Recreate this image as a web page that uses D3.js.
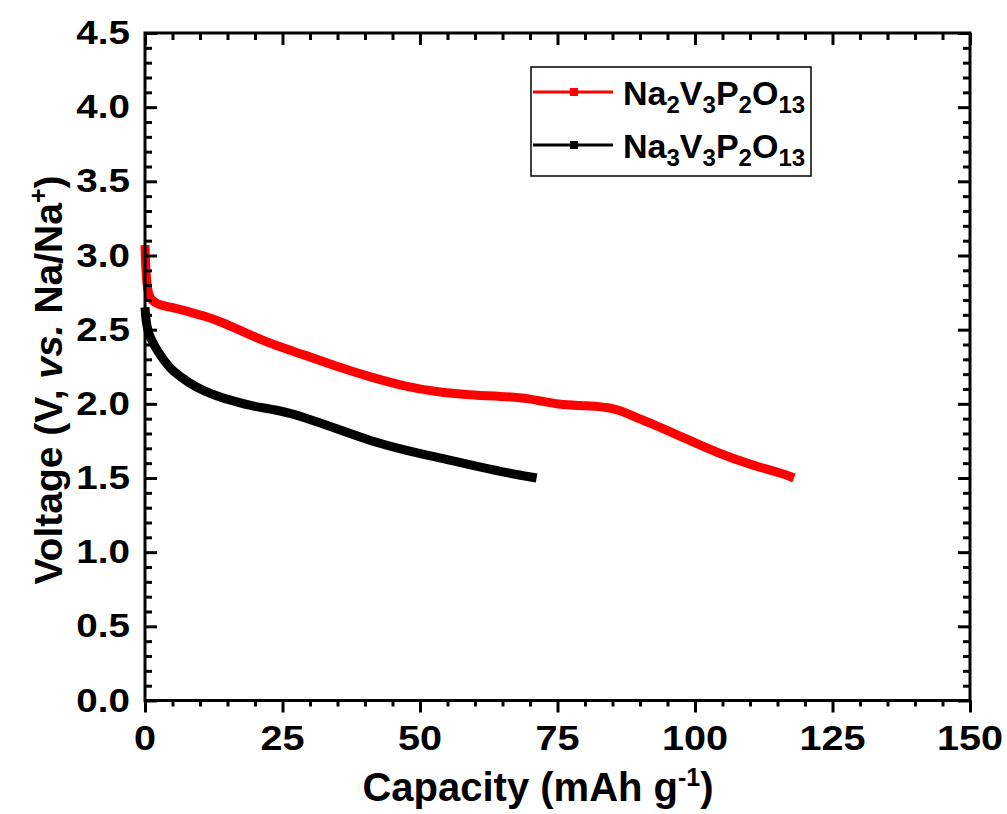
<!DOCTYPE html>
<html>
<head>
<meta charset="utf-8">
<script src="https://cdn.jsdelivr.net/npm/d3@7/dist/d3.min.js"></script>
<style>
  body { margin: 0; background: #fff; }
  svg { display: block; font-family: 'Liberation Sans', Arial, sans-serif; font-weight: bold; }
</style>
</head>
<body>
<div id="chart"></div>
<script>
// Na2V3P2O13 discharge curve (capacity in mAh/g, voltage in V)
const redCapacity = [0, 0.1, 0.3, 0.6, 1.2, 2.2, 5, 8, 11, 14, 17, 20, 24, 29, 35, 41, 47, 53, 59, 65, 69.5, 75.5, 80, 86, 89, 92, 98, 104, 110, 116, 118];
const redVoltage = [3.07, 2.95, 2.82, 2.74, 2.70, 2.67, 2.65, 2.62, 2.59, 2.55, 2.50, 2.45, 2.39, 2.33, 2.25, 2.18, 2.12, 2.08, 2.06, 2.05, 2.04, 1.99, 1.99, 1.97, 1.91, 1.87, 1.77, 1.67, 1.59, 1.53, 1.50];

// Na3V3P2O13 discharge curve
const blackCapacity = [0, 0.2, 0.6, 1.3, 2.2, 3.5, 5, 8, 11, 14, 17, 20, 24, 29, 35, 41, 47, 53, 59, 65, 71.2];
const blackVoltage = [2.65, 2.55, 2.48, 2.42, 2.36, 2.29, 2.22, 2.14, 2.08, 2.04, 2.01, 1.98, 1.96, 1.91, 1.83, 1.75, 1.69, 1.64, 1.59, 1.54, 1.50];

const xTicks = [0, 25, 50, 75, 100, 125, 150];
const yTicks = [0.0, 0.5, 1.0, 1.5, 2.0, 2.5, 3.0, 3.5, 4.0, 4.5];

const series = [
  { sub: ['2', '3', '2', '13'], color: '#ff0000', cap: redCapacity, volt: redVoltage },
  { sub: ['3', '3', '2', '13'], color: '#000000', cap: blackCapacity, volt: blackVoltage },
];

const width = 1007;
const height = 814;
const margin = { top: 33, right: 37, bottom: 113.5, left: 145 };
const plotW = width - margin.left - margin.right;
const plotH = height - margin.top - margin.bottom;

const svg = d3.select('#chart')
  .append('svg')
  .attr('width', width)
  .attr('height', height);

const g = svg.append('g')
  .attr('transform', `translate(${margin.left},${margin.top})`);

const x = d3.scaleLinear().domain([0, 150]).range([0, plotW]);
const y = d3.scaleLinear().domain([0, 4.5]).range([plotH, 0]);

const minorX = d3.range(0, 150.01, 5).filter(v => v % 25 !== 0);
const minorY = d3.range(0, 4.501, 0.1).map(v => +v.toFixed(1)).filter(v => Math.round(v * 10) % 5 !== 0);

// curves
const line = d3.line()
  .curve(d3.curveBasis)
  .x(d => x(d[0]))
  .y(d => y(d[1]));

series.forEach((s) => {
  g.append('path')
    .datum(s.cap.map((c, i) => [c, s.volt[i]]))
    .attr('fill', 'none')
    .attr('stroke', s.color)
    .attr('stroke-width', 9)
    .attr('stroke-linejoin', 'round')
    .attr('stroke-linecap', 'butt')
    .attr('d', line);
});

// axes: left, top, right ticks point inward, bottom ticks outward
const axisStyle = sel => sel
  .call(a => a.select('.domain').remove())
  .call(a => a.selectAll('line').attr('stroke', '#000').attr('stroke-width', 3))
  .call(a => a.selectAll('text').remove());

g.append('g')
  .attr('transform', `translate(0,${plotH})`)
  .call(d3.axisBottom(x).tickValues(xTicks).tickSize(12))
  .call(axisStyle);
g.append('g')
  .attr('transform', `translate(0,${plotH})`)
  .call(d3.axisBottom(x).tickValues(minorX).tickSize(6))
  .call(axisStyle);

g.append('g')
  .call(d3.axisBottom(x).tickValues(xTicks).tickSize(12))
  .call(axisStyle);
g.append('g')
  .call(d3.axisBottom(x).tickValues(minorX).tickSize(7))
  .call(axisStyle);

g.append('g')
  .call(d3.axisRight(y).tickValues(yTicks).tickSize(12))
  .call(axisStyle);
g.append('g')
  .call(d3.axisRight(y).tickValues(minorY).tickSize(7))
  .call(axisStyle);

g.append('g')
  .attr('transform', `translate(${plotW},0)`)
  .call(d3.axisLeft(y).tickValues(yTicks).tickSize(12))
  .call(axisStyle);
g.append('g')
  .attr('transform', `translate(${plotW},0)`)
  .call(d3.axisLeft(y).tickValues(minorY).tickSize(7))
  .call(axisStyle);

// frame
g.append('rect')
  .attr('width', plotW)
  .attr('height', plotH)
  .attr('fill', 'none')
  .attr('stroke', '#000')
  .attr('stroke-width', 3);

// tick labels (slightly stretched like the reference)
g.append('g')
  .selectAll('text')
  .data(xTicks)
  .enter()
  .append('text')
  .attr('transform', d => `translate(${x(d)},${plotH + 49}) scale(1.1,1)`)
  .attr('text-anchor', 'middle')
  .style('font-size', '36px')
  .text(d => d);

g.append('g')
  .selectAll('text')
  .data(yTicks)
  .enter()
  .append('text')
  .attr('transform', d => `translate(-15,${y(d) + 11}) scale(1.17,1)`)
  .attr('text-anchor', 'end')
  .style('font-size', '33px')
  .text(d => d.toFixed(1));

// axis titles
const xTitle = svg.append('text')
  .attr('x', 538)
  .attr('y', 801)
  .attr('text-anchor', 'middle')
  .style('font-size', '40px');
xTitle.append('tspan').text('Capacity (mAh g');
xTitle.append('tspan').attr('dy', -15).style('font-size', '25px').text('-1');
xTitle.append('tspan').attr('dy', 15).text(')');

const yTitle = svg.append('text')
  .attr('transform', 'translate(62,380) rotate(-90)')
  .attr('text-anchor', 'middle')
  .style('font-size', '39px');
yTitle.append('tspan').text('Voltage (V, ');
yTitle.append('tspan').style('font-style', 'italic').text('vs.');
yTitle.append('tspan').text(' Na/Na');
yTitle.append('tspan').attr('dy', -15).style('font-size', '25px').text('+');
yTitle.append('tspan').attr('dy', 15).text(')');

// legend
const legend = svg.append('g');
legend.append('rect')
  .attr('x', 531)
  .attr('y', 67)
  .attr('width', 280)
  .attr('height', 109)
  .attr('fill', '#fff')
  .attr('stroke', '#000')
  .attr('stroke-width', 1.5);

series.forEach((s, i) => {
  const ly = 92 + i * 53;
  legend.append('line')
    .attr('x1', 533)
    .attr('x2', 613)
    .attr('y1', ly)
    .attr('y2', ly)
    .attr('stroke', s.color)
    .attr('stroke-width', 3);
  legend.append('rect')
    .attr('x', 570)
    .attr('y', ly - 4)
    .attr('width', 8)
    .attr('height', 8)
    .attr('fill', s.color);

  const t = legend.append('text')
    .attr('x', 623)
    .attr('y', ly + 13)
    .style('font-size', '34px');
  const parts = ['Na', 'V', 'P', 'O'];
  parts.forEach((p, j) => {
    t.append('tspan').attr('dy', j === 0 ? 0 : -8).style('font-size', '34px').text(p);
    t.append('tspan').attr('dy', 8).style('font-size', '24px').text(s.sub[j]);
  });
});
</script>
</body>
</html>
